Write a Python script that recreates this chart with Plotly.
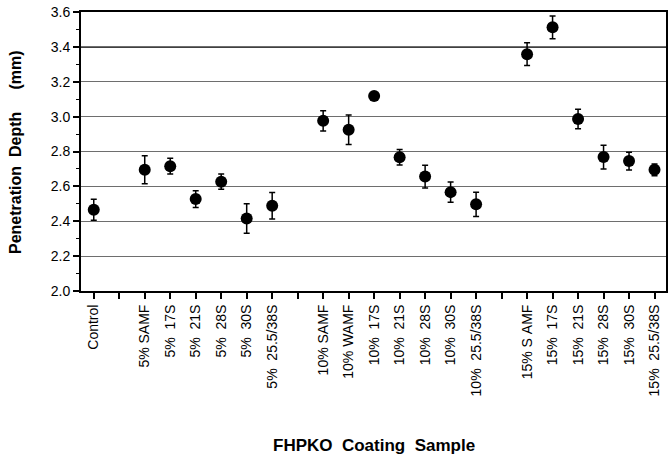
import plotly.graph_objects as go

NB = "\u00a0"
categories = ["Control", "gap1", "5% SAMF", "5% 17S", "5% 21S", "5% 28S", "5% 30S", "5% 25.5/38S",
              "gap2", "10% SAMF", "10% WAMF", "10% 17S", "10% 21S", "10% 28S", "10% 30S", "10% 25.5/38S",
              "gap3", "15% S AMF", "15% 17S", "15% 21S", "15% 28S", "15% 30S", "15% 25.5/38S"]
tick_labels = ["Control", "", "5% SAMF", "5%  17S", "5%  21S", "5%  28S", "5%  30S", "5%  25.5/38S",
               "", "10% SAMF", "10% WAMF", "10%  17S", "10%  21S", "10%  28S", "10%  30S", "10%  25.5/38S",
               "", "15% S AMF", "15%  17S", "15%  21S", "15%  28S", "15%  30S", "15%  25.5/38S"]

samples = ["Control", "5% SAMF", "5% 17S", "5% 21S", "5% 28S", "5% 30S", "5% 25.5/38S",
           "10% SAMF", "10% WAMF", "10% 17S", "10% 21S", "10% 28S", "10% 30S", "10% 25.5/38S",
           "15% S AMF", "15% 17S", "15% 21S", "15% 28S", "15% 30S", "15% 25.5/38S"]
depth = [2.466, 2.695, 2.716, 2.527, 2.627, 2.416, 2.489,
         2.976, 2.925, 3.118, 2.767, 2.656, 2.567, 2.497,
         3.358, 3.512, 2.986, 2.768, 2.745, 2.695]
err = [0.06, 0.08, 0.045, 0.048, 0.044, 0.085, 0.076,
       0.058, 0.085, 0.01, 0.044, 0.065, 0.058, 0.07,
       0.065, 0.065, 0.056, 0.068, 0.051, 0.034]

font = "Liberation Sans, Arial, Helvetica, sans-serif"

fig = go.Figure()
fig.add_trace(go.Scatter(
    x=samples, y=depth, mode="markers",
    marker=dict(color="black", size=12),
    error_y=dict(type="data", array=err, color="black", thickness=1.5, width=3),
    showlegend=False,
))

fig.add_shape(type="line", xref="paper", x0=0, x1=1, yref="y", y0=3.4, y1=3.4,
              line=dict(color="black", width=1.5), layer="below")

fig.update_layout(
    width=669, height=457,
    margin=dict(l=81, r=1, t=12, b=166),
    paper_bgcolor="white", plot_bgcolor="white",
    font=dict(family=font, size=14, color="black"),
    xaxis=dict(
        type="category", categoryorder="array", categoryarray=categories,
        tickmode="array", tickvals=categories, ticktext=[t.replace(" ", NB) for t in tick_labels],
        tickangle=-90, ticks="outside", ticklen=6, tickwidth=2, tickcolor="black",
        showline=True, linecolor="black", linewidth=2, mirror=True,
        showgrid=False, zeroline=False, range=[-0.5, 22.45],
        tickfont=dict(size=14),
    ),
    yaxis=dict(
        range=[2.0, 3.6], dtick=0.2, tick0=2.0, tickformat=".1f",
        ticks="outside", ticklen=6, tickwidth=2, tickcolor="black",
        showline=True, linecolor="black", linewidth=2, mirror=True,
        showgrid=True, gridcolor="#6e6e6e", gridwidth=1,
        zeroline=False,
        minor=dict(dtick=0.1, ticks="outside", ticklen=3, tickwidth=1, tickcolor="black", showgrid=False),
        tickfont=dict(size=14),
    ),
    annotations=[
        dict(text="Penetration  Depth     (mm)".replace(" ", NB), xref="paper", yref="paper",
             x=-0.112, y=0.5, xanchor="center", yanchor="middle", textangle=-90, showarrow=False,
             font=dict(size=16, family=font, color="black", weight="bold")),
        dict(text="FHPKO  Coating  Sample".replace(" ", NB), xref="paper", yref="paper",
             x=0.5, y=-0.553, xanchor="center", yanchor="middle", showarrow=False,
             font=dict(size=17, family=font, color="black", weight="bold")),
    ],
)

fig.write_html("out.html")
